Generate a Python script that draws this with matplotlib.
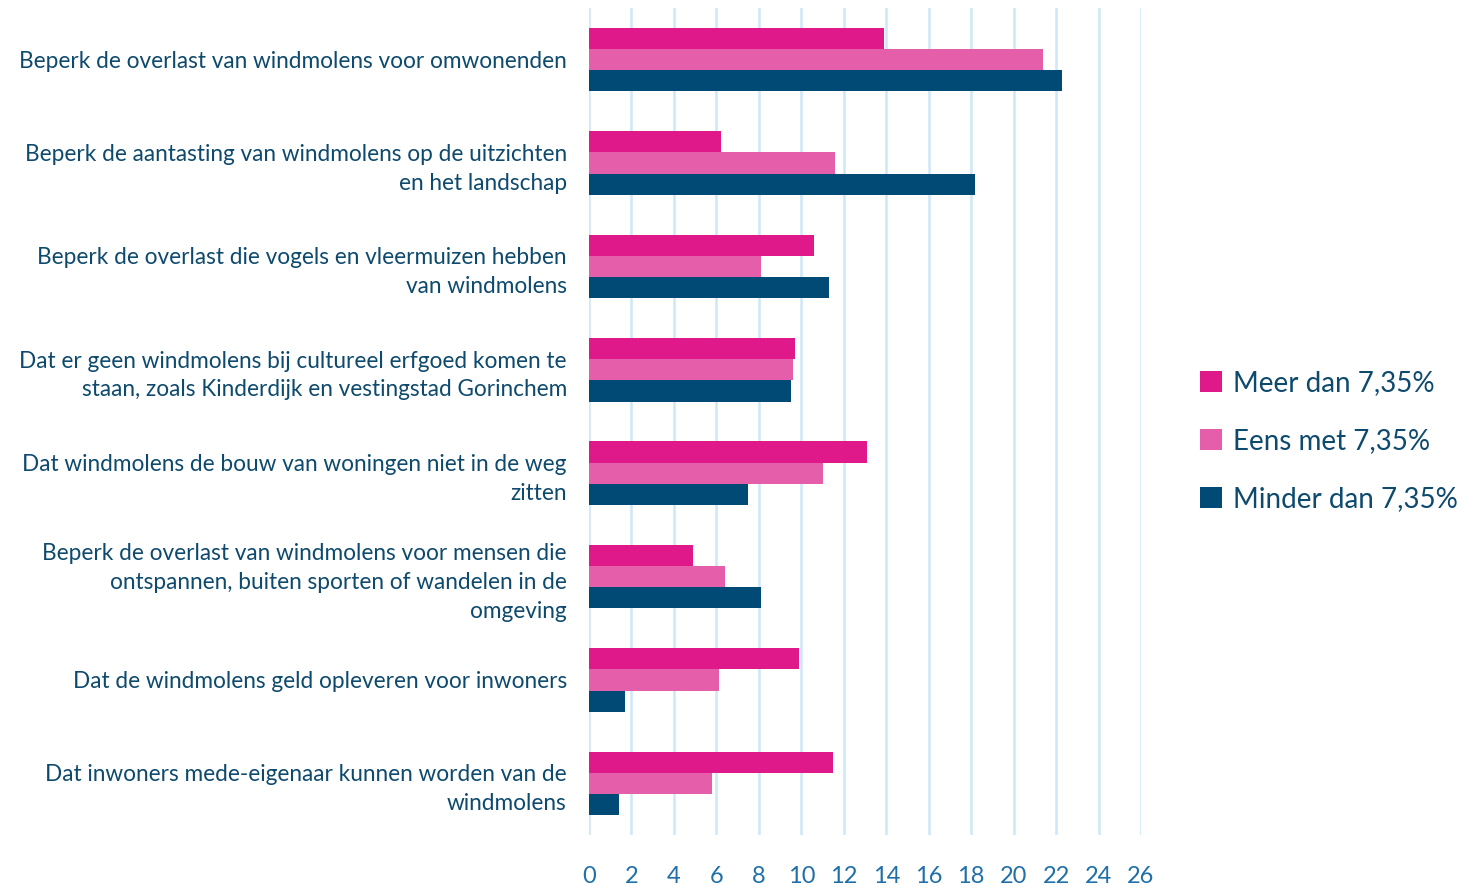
import matplotlib
matplotlib.use("Agg")
import matplotlib.pyplot as plt
import matplotlib.transforms as mtransforms
import numpy as np

plt.rcParams['font.family'] = ['Lato', 'DejaVu Sans']

categories = [
    "Beperk de overlast van windmolens voor omwonenden",
    "Beperk de aantasting van windmolens op de uitzichten\nen het landschap",
    "Beperk de overlast die vogels en vleermuizen hebben\nvan windmolens",
    "Dat er geen windmolens bij cultureel erfgoed komen te\nstaan, zoals Kinderdijk en vestingstad Gorinchem",
    "Dat windmolens de bouw van woningen niet in de weg\nzitten",
    "Beperk de overlast van windmolens voor mensen die\nontspannen, buiten sporten of wandelen in de\nomgeving",
    "Dat de windmolens geld opleveren voor inwoners",
    "Dat inwoners mede-eigenaar kunnen worden van de\nwindmolens",
]
meer = [13.9, 6.2, 10.6, 9.7, 13.1, 4.9, 9.9, 11.5]
eens = [21.4, 11.6, 8.1, 9.6, 11.0, 6.4, 6.1, 5.8]
minder = [22.3, 18.2, 11.3, 9.5, 7.5, 8.1, 1.7, 1.4]
series = ["Meer dan 7,35%", "Eens met 7,35%", "Minder dan 7,35%"]
colors = ["#E0198A", "#E55EA9", "#004A75"]

text_col = "#0E4A6E"
tick_col = "#1F6FA8"

fig = plt.figure(figsize=(14.68, 8.85), dpi=100)
ax = fig.add_axes([589 / 1468, 1 - 835 / 885, 552 / 1468, 827 / 885])

y = np.arange(len(categories))
h = 0.205
for i, (vals, c, name) in enumerate(zip([meer, eens, minder], colors, series)):
    ax.barh(y + (i - 1) * h, vals, height=h, color=c, label=name, zorder=3)

ax.set_xlim(0, 26)
ax.set_ylim(len(categories) - 0.5, -0.5)
ax.set_xticks(np.arange(0, 27, 2))
ax.set_yticks(y)
ax.set_yticklabels(categories, fontsize=16.3, color=text_col, linespacing=1.45)
# multi-line labels sit a bit low, nudge them up
up = mtransforms.ScaledTranslation(0, 3.5 / 100, fig.dpi_scale_trans)
for lbl in ax.get_yticklabels():
    if "\n" in lbl.get_text():
        lbl.set_transform(lbl.get_transform() + up)
ax.tick_params(axis='y', length=0, pad=16)
ax.tick_params(axis='x', length=0, pad=22, labelsize=17, labelcolor=tick_col)
ax.grid(axis='x', color="#CDE8F8", linewidth=1.8, zorder=0)
for s in ax.spines.values():
    s.set_visible(False)

fig.legend(loc='center left', bbox_to_anchor=(1175 / 1468, 1 - 441 / 885),
           frameon=False, fontsize=20, handlelength=0.8, handleheight=0.8,
           handletextpad=0.4, labelspacing=1.15, labelcolor=text_col)

fig.savefig("out.png", dpi=100)
